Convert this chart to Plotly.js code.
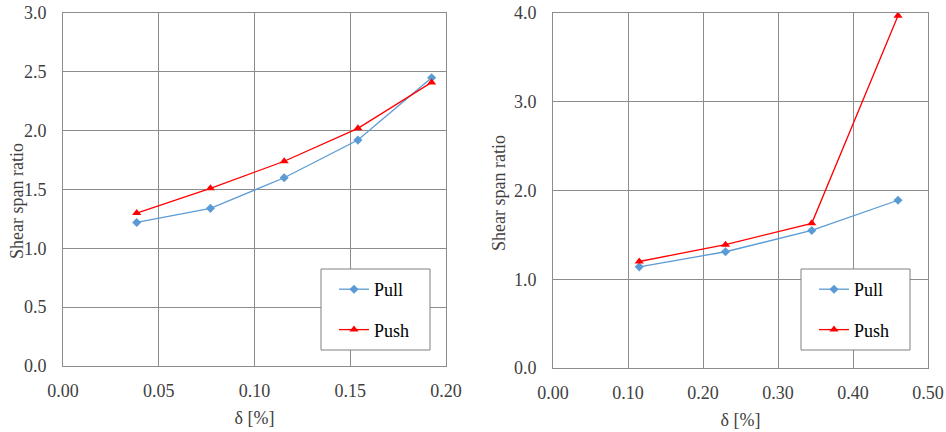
<!DOCTYPE html>
<html>
<head>
<meta charset="utf-8">
<script src="https://cdn.plot.ly/plotly-3.0.1.min.js"></script>
<style>html,body{margin:0;padding:0;background:#fff}#chart{width:946px;height:432px}</style>
</head>
<body>
<div id="chart"></div>
<script>
// Left chart data
const leftX = [0.0385, 0.077, 0.1155, 0.154, 0.1925];
const leftPull = [1.22, 1.34, 1.60, 1.92, 2.45];
const leftPush = [1.30, 1.51, 1.74, 2.02, 2.41];
// Right chart data
const rightX = [0.115, 0.23, 0.345, 0.46];
const rightPull = [1.14, 1.31, 1.55, 1.89];
const rightPush = [1.20, 1.39, 1.63, 3.97];
const seriesNames = ["Pull", "Push"];
const xTitle = "δ [%]";
const yTitle = "Shear span ratio";

const blue = "#5b9bd5", red = "#ff0000";
const fontFam = "Liberation Serif";
const W = 946, H = 432;

function pull(x, y, xa, ya, leg) {
  return {x: x, y: y, xaxis: xa, yaxis: ya, name: seriesNames[0], type: "scatter", mode: "lines+markers",
    line: {color: blue, width: 1.3}, marker: {symbol: "diamond", size: 7, color: blue},
    legend: leg, legendgroup: leg + "a"};
}
function push(x, y, xa, ya, leg) {
  return {x: x, y: y, xaxis: xa, yaxis: ya, name: seriesNames[1], type: "scatter", mode: "lines+markers",
    line: {color: red, width: 1.3}, marker: {symbol: "triangle-up", size: 8, color: red},
    legend: leg, legendgroup: leg + "b"};
}

const data = [
  pull(leftX, leftPull, "x", "y", "legend"),
  push(leftX, leftPush, "x", "y", "legend"),
  pull(rightX, rightPull, "x2", "y2", "legend2"),
  push(rightX, rightPush, "x2", "y2", "legend2")
];

const tfont = {family: fontFam, size: 18, color: "#404040"};
const axCommon = {
  showline: true, mirror: true, linecolor: "#8c8c8c", linewidth: 1,
  showgrid: true, gridcolor: "#8c8c8c", gridwidth: 1, zeroline: false,
  ticks: "", tickfont: {family: fontFam, size: 18, color: "#404040"}
};
const legCommon = {
  borderwidth: 0, bgcolor: "rgba(0,0,0,0)",
  font: {family: fontFam, size: 18, color: "#000"},
  tracegroupgap: 14, xanchor: "left", yanchor: "top", traceorder: "grouped"
};

function box(x0, x1, y0, y1) {
  return {type: "rect", xref: "paper", yref: "paper", x0: x0 / W, x1: x1 / W, y0: 1 - y1 / H, y1: 1 - y0 / H,
    line: {color: "#808080", width: 1}, fillcolor: "#ffffff", layer: "above"};
}
function ytitle(xpx, ypx) {
  return {text: yTitle, xref: "paper", yref: "paper", x: xpx / W, y: 1 - ypx / H, textangle: -90,
    showarrow: false, xanchor: "center", yanchor: "middle", font: tfont};
}

const layout = {
  width: W, height: H,
  margin: {l: 0, r: 0, t: 0, b: 0},
  paper_bgcolor: "#fff", plot_bgcolor: "#fff",
  font: {family: fontFam},
  xaxis: Object.assign({}, axCommon, {domain: [63/W, 446/W], range: [0, 0.2], dtick: 0.05, tickformat: ".2f",
    anchor: "y", ticklabelstandoff: 8, title: {text: xTitle, font: tfont, standoff: 11}}),
  yaxis: Object.assign({}, axCommon, {domain: [1 - 366/H, 1 - 13/H], range: [0, 3], dtick: 0.5, tickformat: ".1f",
    anchor: "x", ticklabelstandoff: 12}),
  xaxis2: Object.assign({}, axCommon, {domain: [553/W, 928/W], range: [0, 0.5], dtick: 0.1, tickformat: ".2f",
    anchor: "y2", ticklabelstandoff: 8, title: {text: xTitle, font: tfont, standoff: 11}}),
  yaxis2: Object.assign({}, axCommon, {domain: [1 - 368/H, 1 - 13/H], range: [0, 4], dtick: 1, tickformat: ".1f",
    anchor: "x2", ticklabelstandoff: 12}),
  shapes: [box(321, 430, 269, 350), box(801, 910, 269, 350)],
  annotations: [ytitle(17, 201), ytitle(499, 193)],
  legend: Object.assign({}, legCommon, {x: 334/W, y: 1 - 271/H}),
  legend2: Object.assign({}, legCommon, {x: 814/W, y: 1 - 271/H}),
  showlegend: true
};

Plotly.newPlot("chart", data, layout, {staticPlot: true});
</script>
</body>
</html>
